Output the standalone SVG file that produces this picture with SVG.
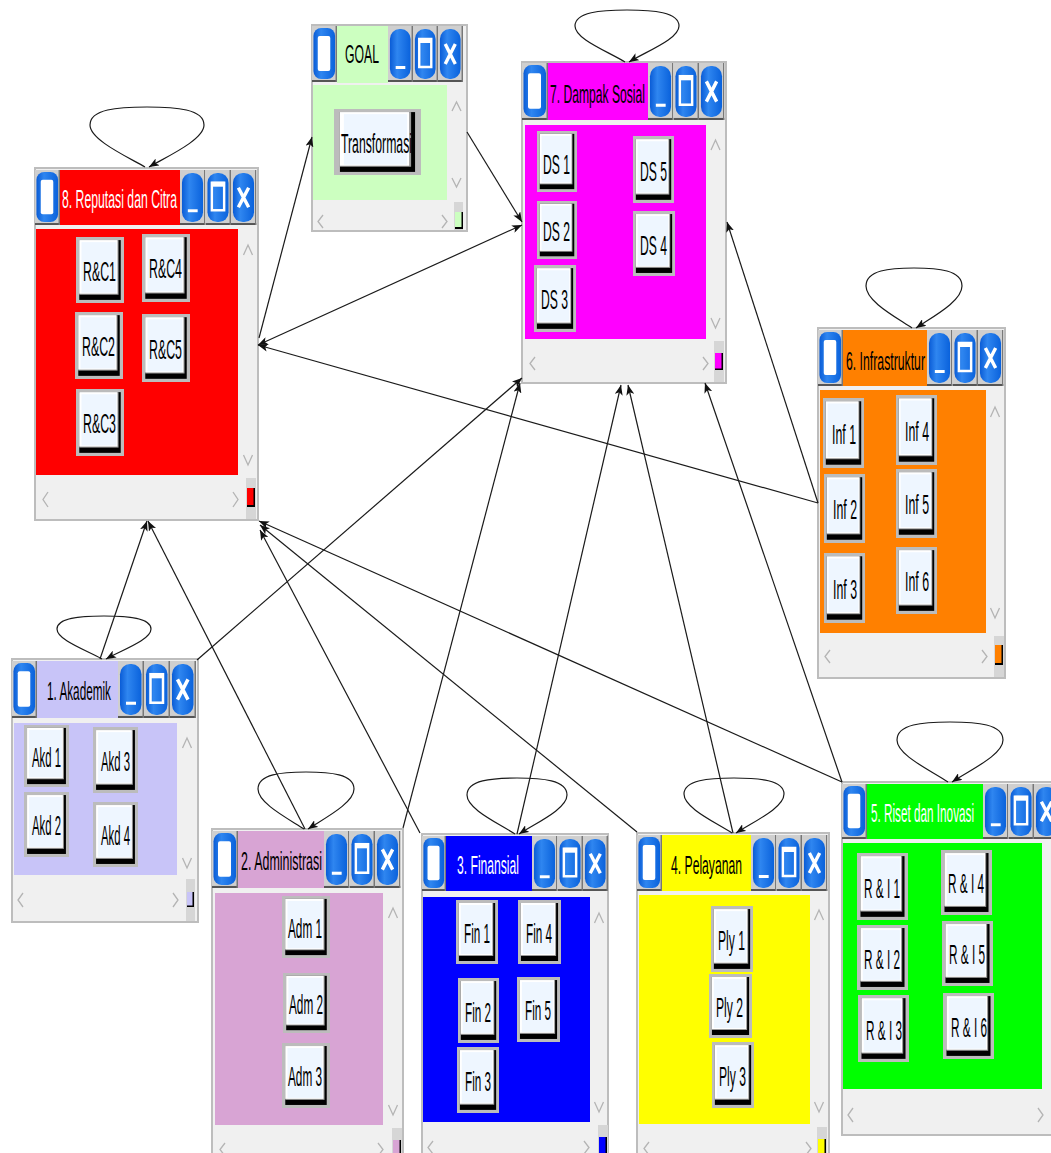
<svg xmlns="http://www.w3.org/2000/svg" xmlns:xlink="http://www.w3.org/1999/xlink" width="1051" height="1153" viewBox="0 0 1051 1153">
<style>
.frame{fill:#f0f0f0;stroke:#bdbdbd;stroke-width:2}
.chev{fill:none;stroke:#b4b4b4;stroke-width:1.3}
.ttl{font-family:"Liberation Sans Narrow","Liberation Sans",Arial,sans-serif;font-size:25px;fill:#000}
.wt{fill:#fff}
.lbl{font-family:"Liberation Sans Narrow","Liberation Sans",Arial,sans-serif;font-size:27px;fill:#000}
.conn{stroke:#1a1a1a;stroke-width:1.2;fill:none}
.trk{fill:#d6d6d6}
</style>
<defs>
<linearGradient id="blue" x1="0" y1="0" x2="1" y2="0">
<stop offset="0" stop-color="#0a5cd6"/><stop offset="0.35" stop-color="#2f86f0"/><stop offset="1" stop-color="#0a62dc"/>
</linearGradient>
<symbol id="ico" viewBox="0 0 26 56" preserveAspectRatio="none">
<rect width="26" height="56" fill="#cfcfcf"/><rect x="0" y="54" width="26" height="2" fill="#555"/><rect x="24.5" y="0" width="1.5" height="56" fill="#777"/>
<rect x="1.5" y="2" width="22.5" height="51" rx="8" fill="url(#blue)"/>
<rect x="6" y="10" width="13" height="35" rx="2" fill="#fff"/>
</symbol>
<symbol id="bmin" viewBox="0 0 26 56" preserveAspectRatio="none">
<rect width="26" height="56" fill="#cfcfcf"/><rect x="0" y="54" width="26" height="2" fill="#555"/><rect x="24.5" y="0" width="1.5" height="56" fill="#777"/>
<rect x="2" y="3" width="21.5" height="50" rx="10" fill="url(#blue)"/>
<rect x="8" y="40" width="10" height="3" fill="#fff"/>
</symbol>
<symbol id="bmax" viewBox="0 0 26 56" preserveAspectRatio="none">
<rect width="26" height="56" fill="#cfcfcf"/><rect x="0" y="54" width="26" height="2" fill="#555"/><rect x="24.5" y="0" width="1.5" height="56" fill="#777"/>
<rect x="2" y="3" width="21.5" height="50" rx="10" fill="url(#blue)"/>
<rect x="6.5" y="13" width="12.5" height="28" fill="none" stroke="#fff" stroke-width="2.5"/>
<rect x="6" y="12" width="13.5" height="5" fill="#fff"/>
</symbol>
<symbol id="bx" viewBox="0 0 26 56" preserveAspectRatio="none">
<rect width="26" height="56" fill="#cfcfcf"/><rect x="0" y="54" width="26" height="2" fill="#555"/><rect x="24.5" y="0" width="1.5" height="56" fill="#777"/>
<rect x="2" y="3" width="21.5" height="50" rx="10" fill="url(#blue)"/>
<path d="M7.5,18 L18,38 M18,18 L7.5,38" stroke="#fff" stroke-width="3.5"/>
</symbol>
<symbol id="btn" viewBox="0 0 44 64" preserveAspectRatio="none">
<rect width="44" height="64" fill="#bcbcbc"/>
<rect x="3" y="3" width="38" height="58" fill="#000"/>
<rect x="3" y="3" width="36" height="53" fill="#9a9a9a"/>
<rect x="3" y="3" width="35" height="52" fill="#fff"/>
<rect x="5" y="5" width="32" height="49" fill="#eef6ff"/>
</symbol>
<marker id="ah" viewBox="0 0 10 8" refX="10" refY="4" markerWidth="10" markerHeight="8" orient="auto-start-reverse" markerUnits="userSpaceOnUse">
<path d="M0,0 L10,4 L0,8 L2.5,4 z" fill="#111"/>
</marker>
</defs>

<rect width="1051" height="1153" fill="#fff"/>

<!-- GOAL -->
<g id="goal">
<rect class="frame" x="312" y="25" width="155" height="206"/>
<rect x="337" y="26" width="51" height="57" fill="#ccffc0"/>
<use href="#ico" x="312" y="26" width="25" height="56"/>
<use href="#bmin" x="388" y="26" width="25" height="56"/>
<use href="#bmax" x="413" y="26" width="25" height="56"/>
<use href="#bx" x="438" y="26" width="25" height="56"/>
<rect x="313" y="85" width="134" height="115" fill="#ccffc0"/>
<path class="chev" d="M452,111 L456.5,102 L461,111 M452,178 L456.5,187 L461,178 M323,215 L318,221.5 L323,228 M442,215 L447,221.5 L442,228"/>
<rect class="trk" x="454" y="202" width="9" height="28"/>
<rect x="455" y="212" width="8" height="17" fill="#000"/><rect x="455" y="212" width="6.5" height="15" fill="#ccffc0"/>
<text class="ttl" x="345" y="63" textLength="34" lengthAdjust="spacingAndGlyphs">GOAL</text>
<use href="#btn" x="334" y="109" width="87" height="66"/>
<text class="lbl" x="341" y="153" textLength="71" lengthAdjust="spacingAndGlyphs">Transformasi</text>
</g>

<!-- 7. Dampak Sosial -->
<g id="dampak-sosial">
<rect class="frame" x="522" y="62" width="204" height="321"/>
<rect x="548" y="63" width="100" height="57" fill="#ff00ff"/>
<use href="#ico" x="522" y="63" width="26" height="57"/>
<use href="#bmin" x="648" y="63" width="25.5" height="57"/>
<use href="#bmax" x="673.5" y="63" width="25.5" height="57"/>
<use href="#bx" x="699" y="63" width="25.5" height="57"/>
<rect x="525" y="125" width="181" height="214" fill="#ff00ff"/>
<path class="chev" d="M711,150 L715.5,140 L720,150 M711,318 L715.5,328 L720,318 M535,357 L530,363.5 L535,370 M703,357 L708,363.5 L703,370"/>
<rect class="trk" x="714" y="341" width="10" height="41"/>
<rect x="715" y="353" width="8" height="17" fill="#000"/><rect x="715" y="353" width="6.5" height="15.5" fill="#ff00ff"/>
<text class="ttl" x="550" y="103" textLength="95" lengthAdjust="spacingAndGlyphs">7. Dampak Sosial</text>
<use href="#btn" x="537" y="131" width="40" height="61"/>
<text class="lbl" x="543" y="174" textLength="27" lengthAdjust="spacingAndGlyphs">DS 1</text>
<use href="#btn" x="537" y="201" width="40" height="58"/>
<text class="lbl" x="543" y="241" textLength="27" lengthAdjust="spacingAndGlyphs">DS 2</text>
<use href="#btn" x="534" y="265" width="42" height="67"/>
<text class="lbl" x="541" y="309" textLength="27" lengthAdjust="spacingAndGlyphs">DS 3</text>
<use href="#btn" x="633" y="136" width="41" height="67"/>
<text class="lbl" x="640" y="181" textLength="27" lengthAdjust="spacingAndGlyphs">DS 5</text>
<use href="#btn" x="633" y="211" width="42" height="65"/>
<text class="lbl" x="640" y="255" textLength="27" lengthAdjust="spacingAndGlyphs">DS 4</text>
</g>

<!-- 8. Reputasi dan Citra -->
<g id="reputasi-citra">
<rect class="frame" x="35" y="168" width="223" height="352"/>
<rect x="60" y="170" width="120" height="55" fill="#ff0000"/>
<use href="#ico" x="35" y="170" width="25" height="55"/>
<use href="#bmin" x="180" y="170" width="25.5" height="55"/>
<use href="#bmax" x="205.5" y="170" width="25.5" height="55"/>
<use href="#bx" x="231" y="170" width="25.5" height="55"/>
<rect x="36" y="229" width="202" height="246" fill="#ff0000"/>
<path class="chev" d="M243.5,255 L248,245 L252.5,255 M243.5,455 L248,465 L252.5,455 M48,492 L43,499.5 L48,507 M233,492 L238,499.5 L233,507"/>
<rect class="trk" x="246" y="478" width="10" height="41"/>
<rect x="247" y="488" width="8" height="19" fill="#000"/><rect x="247" y="488" width="6.5" height="17" fill="#ff0000"/>
<text class="ttl wt" x="62" y="208" textLength="115" lengthAdjust="spacingAndGlyphs">8. Reputasi dan Citra</text>
<use href="#btn" x="76" y="237" width="48" height="66"/>
<text class="lbl" x="83" y="281" textLength="33" lengthAdjust="spacingAndGlyphs">R&amp;C1</text>
<use href="#btn" x="142" y="234" width="48" height="68"/>
<text class="lbl" x="149" y="278" textLength="33" lengthAdjust="spacingAndGlyphs">R&amp;C4</text>
<use href="#btn" x="75" y="312" width="48" height="67"/>
<text class="lbl" x="82" y="356" textLength="33" lengthAdjust="spacingAndGlyphs">R&amp;C2</text>
<use href="#btn" x="142" y="314" width="48" height="68"/>
<text class="lbl" x="149" y="359" textLength="33" lengthAdjust="spacingAndGlyphs">R&amp;C5</text>
<use href="#btn" x="76" y="389" width="48" height="67"/>
<text class="lbl" x="83" y="433" textLength="33" lengthAdjust="spacingAndGlyphs">R&amp;C3</text>
</g>

<!-- 6. Infrastruktur -->
<g id="infrastruktur">
<rect class="frame" x="818" y="328" width="187" height="350"/>
<rect x="843" y="330" width="84" height="56" fill="#ff8000"/>
<use href="#ico" x="818" y="330" width="25" height="56"/>
<use href="#bmin" x="927" y="330" width="25.5" height="56"/>
<use href="#bmax" x="952.5" y="330" width="25.5" height="56"/>
<use href="#bx" x="978" y="330" width="25.5" height="56"/>
<rect x="820" y="390" width="166" height="243" fill="#ff8000"/>
<path class="chev" d="M990.5,417 L995,407 L999.5,417 M990.5,608 L995,618 L999.5,608 M830,650 L825,656.5 L830,663 M982,650 L987,656.5 L982,663"/>
<rect class="trk" x="994" y="636" width="10" height="41"/>
<rect x="995" y="645" width="8" height="20" fill="#000"/><rect x="995" y="645" width="6.5" height="18" fill="#ff8000"/>
<text class="ttl" x="846" y="370" textLength="79" lengthAdjust="spacingAndGlyphs">6. Infrastruktur</text>
<use href="#btn" x="823" y="398" width="41" height="70"/>
<text class="lbl" x="832" y="444" textLength="24" lengthAdjust="spacingAndGlyphs">Inf 1</text>
<use href="#btn" x="896" y="395" width="41" height="70"/>
<text class="lbl" x="905" y="441" textLength="24" lengthAdjust="spacingAndGlyphs">Inf 4</text>
<use href="#btn" x="824" y="474" width="41" height="69"/>
<text class="lbl" x="833" y="519" textLength="24" lengthAdjust="spacingAndGlyphs">Inf 2</text>
<use href="#btn" x="896" y="469" width="41" height="69"/>
<text class="lbl" x="905" y="514" textLength="24" lengthAdjust="spacingAndGlyphs">Inf 5</text>
<use href="#btn" x="824" y="553" width="41" height="70"/>
<text class="lbl" x="833" y="599" textLength="24" lengthAdjust="spacingAndGlyphs">Inf 3</text>
<use href="#btn" x="896" y="547" width="41" height="67"/>
<text class="lbl" x="905" y="591" textLength="24" lengthAdjust="spacingAndGlyphs">Inf 6</text>
</g>

<!-- 1. Akademik -->
<g id="akademik">
<rect class="frame" x="12" y="659" width="186" height="263"/>
<rect x="37" y="661" width="81" height="57" fill="#c8c4f8"/>
<use href="#ico" x="12" y="661" width="25" height="57"/>
<use href="#bmin" x="118" y="661" width="26" height="57"/>
<use href="#bmax" x="144" y="661" width="26" height="57"/>
<use href="#bx" x="170" y="661" width="26" height="57"/>
<rect x="14" y="723" width="163" height="152" fill="#c8c4f8"/>
<path class="chev" d="M182.5,748 L187,738 L191.5,748 M182.5,858 L187,868 L191.5,858 M23,893 L18,900 L23,907 M173,893 L178,900 L173,907"/>
<rect class="trk" x="186" y="879" width="9" height="42"/>
<rect x="187" y="892" width="7" height="15" fill="#000"/><rect x="187" y="892" width="5.5" height="13.5" fill="#c8c4f8"/>
<text class="ttl" x="47" y="700" textLength="64" lengthAdjust="spacingAndGlyphs">1. Akademik</text>
<use href="#btn" x="24" y="725" width="45" height="62"/>
<text class="lbl" x="32" y="767" textLength="29" lengthAdjust="spacingAndGlyphs">Akd 1</text>
<use href="#btn" x="93" y="727" width="45" height="66"/>
<text class="lbl" x="101" y="771" textLength="29" lengthAdjust="spacingAndGlyphs">Akd 3</text>
<use href="#btn" x="24" y="792" width="45" height="65"/>
<text class="lbl" x="32" y="835" textLength="29" lengthAdjust="spacingAndGlyphs">Akd 2</text>
<use href="#btn" x="93" y="802" width="45" height="65"/>
<text class="lbl" x="101" y="845" textLength="29" lengthAdjust="spacingAndGlyphs">Akd 4</text>
</g>

<!-- 2. Administrasi -->
<g id="administrasi">
<rect class="frame" x="212" y="829" width="191" height="330"/>
<rect x="238" y="831" width="86" height="57" fill="#d8a4d4"/>
<use href="#ico" x="212" y="831" width="26" height="57"/>
<use href="#bmin" x="324" y="831" width="25.5" height="57"/>
<use href="#bmax" x="349.5" y="831" width="25.5" height="57"/>
<use href="#bx" x="375" y="831" width="25.5" height="57"/>
<rect x="215" y="893" width="168" height="232" fill="#d8a4d4"/>
<path class="chev" d="M388.5,918 L393,908 L397.5,918 M388.5,1105 L393,1115 L397.5,1105 M225,1143 L220,1149.5 L225,1156 M378,1143 L383,1149.5 L378,1156"/>
<rect class="trk" x="392" y="1128" width="10" height="30"/>
<rect x="393" y="1140" width="8" height="15" fill="#000"/><rect x="393" y="1140" width="6.5" height="15" fill="#d8a4d4"/>
<text class="ttl" x="241" y="870" textLength="81" lengthAdjust="spacingAndGlyphs">2. Administrasi</text>
<use href="#btn" x="282" y="896" width="48" height="62"/>
<text class="lbl" x="288" y="938" textLength="34" lengthAdjust="spacingAndGlyphs">Adm 1</text>
<use href="#btn" x="283" y="973" width="47" height="60"/>
<text class="lbl" x="289" y="1014" textLength="34" lengthAdjust="spacingAndGlyphs">Adm 2</text>
<use href="#btn" x="282" y="1043" width="48" height="65"/>
<text class="lbl" x="288" y="1086" textLength="34" lengthAdjust="spacingAndGlyphs">Adm 3</text>
</g>

<!-- 3. Finansial -->
<g id="finansial">
<rect class="frame" x="422" y="834" width="186" height="325"/>
<rect x="446" y="836" width="86" height="55" fill="#0000ff"/>
<use href="#ico" x="422" y="836" width="24" height="55"/>
<use href="#bmin" x="532" y="836" width="25.5" height="55"/>
<use href="#bmax" x="557.5" y="836" width="25.5" height="55"/>
<use href="#bx" x="583" y="836" width="25" height="55"/>
<rect x="423" y="897" width="167" height="225" fill="#0000ff"/>
<path class="chev" d="M594.5,923 L599,913 L603.5,923 M594.5,1102 L599,1112 L603.5,1102 M433,1141 L428,1147.5 L433,1154 M584,1141 L589,1147.5 L584,1154"/>
<rect class="trk" x="598" y="1125" width="10" height="33"/>
<rect x="599" y="1137" width="8" height="18" fill="#000"/><rect x="599" y="1137" width="6.5" height="18" fill="#0000ff"/>
<text class="ttl wt" x="457" y="874" textLength="62" lengthAdjust="spacingAndGlyphs">3. Finansial</text>
<use href="#btn" x="456" y="900" width="42" height="64"/>
<text class="lbl" x="464" y="943" textLength="26" lengthAdjust="spacingAndGlyphs">Fin 1</text>
<use href="#btn" x="518" y="900" width="43" height="64"/>
<text class="lbl" x="526" y="943" textLength="26" lengthAdjust="spacingAndGlyphs">Fin 4</text>
<use href="#btn" x="458" y="978" width="41" height="65"/>
<text class="lbl" x="465" y="1022" textLength="26" lengthAdjust="spacingAndGlyphs">Fin 2</text>
<use href="#btn" x="517" y="977" width="43" height="65"/>
<text class="lbl" x="525" y="1020" textLength="26" lengthAdjust="spacingAndGlyphs">Fin 5</text>
<use href="#btn" x="457" y="1047" width="42" height="66"/>
<text class="lbl" x="465" y="1091" textLength="26" lengthAdjust="spacingAndGlyphs">Fin 3</text>
</g>

<!-- 4. Pelayanan -->
<g id="pelayanan">
<rect class="frame" x="637" y="833" width="192" height="325"/>
<rect x="662" y="835" width="89" height="56" fill="#ffff00"/>
<use href="#ico" x="637" y="835" width="25" height="56"/>
<use href="#bmin" x="751" y="835" width="25.5" height="56"/>
<use href="#bmax" x="776.5" y="835" width="25.5" height="56"/>
<use href="#bx" x="802" y="835" width="25.5" height="56"/>
<rect x="639" y="895" width="171" height="229" fill="#ffff00"/>
<path class="chev" d="M814.5,920 L819,910 L823.5,920 M814.5,1102 L819,1112 L823.5,1102 M649,1142 L644,1148.5 L649,1155 M806,1142 L811,1148.5 L806,1155"/>
<rect class="trk" x="817" y="1127" width="10" height="31"/>
<rect x="818" y="1139" width="8" height="16" fill="#000"/><rect x="818" y="1139" width="6.5" height="16" fill="#ffff00"/>
<text class="ttl" x="671" y="874" textLength="71" lengthAdjust="spacingAndGlyphs">4. Pelayanan</text>
<use href="#btn" x="711" y="906" width="42" height="66"/>
<text class="lbl" x="718" y="950" textLength="27" lengthAdjust="spacingAndGlyphs">Ply 1</text>
<use href="#btn" x="709" y="974" width="43" height="64"/>
<text class="lbl" x="716" y="1017" textLength="27" lengthAdjust="spacingAndGlyphs">Ply 2</text>
<use href="#btn" x="712" y="1042" width="42" height="66"/>
<text class="lbl" x="719" y="1086" textLength="27" lengthAdjust="spacingAndGlyphs">Ply 3</text>
</g>

<!-- 5. Riset dan Inovasi -->
<g id="riset-inovasi">
<rect class="frame" x="842" y="782" width="220" height="353"/>
<rect x="867" y="784" width="116" height="55" fill="#00ff00"/>
<use href="#ico" x="842" y="784" width="25" height="55"/>
<use href="#bmin" x="983" y="784" width="25.5" height="55"/>
<use href="#bmax" x="1008.5" y="784" width="25.5" height="55"/>
<use href="#bx" x="1034" y="784" width="25.5" height="55"/>
<rect x="843" y="843" width="199" height="246" fill="#00ff00"/>
<path class="chev" d="M853,1108 L848,1115 L853,1122 M1038,1108 L1043,1115 L1038,1122"/>
<text class="ttl wt" transform="translate(871,822) scale(0.5,1)" x="0" y="0" textLength="206" lengthAdjust="spacingAndGlyphs">5. Riset dan Inovasi</text>
<use href="#btn" x="857" y="853" width="51" height="67"/>
<text class="lbl" x="864" y="898" textLength="36" lengthAdjust="spacingAndGlyphs">R &amp; I 1</text>
<use href="#btn" x="941" y="850" width="51" height="65"/>
<text class="lbl" x="948" y="893" textLength="36" lengthAdjust="spacingAndGlyphs">R &amp; I 4</text>
<use href="#btn" x="857" y="925" width="51" height="65"/>
<text class="lbl" x="864" y="969" textLength="36" lengthAdjust="spacingAndGlyphs">R &amp; I 2</text>
<use href="#btn" x="942" y="921" width="51" height="65"/>
<text class="lbl" x="949" y="964" textLength="36" lengthAdjust="spacingAndGlyphs">R &amp; I 5</text>
<use href="#btn" x="858" y="995" width="51" height="67"/>
<text class="lbl" x="866" y="1040" textLength="36" lengthAdjust="spacingAndGlyphs">R &amp; I 3</text>
<use href="#btn" x="943" y="993" width="51" height="66"/>
<text class="lbl" x="951" y="1037" textLength="36" lengthAdjust="spacingAndGlyphs">R &amp; I 6</text>
</g>

<!-- connectors -->
<g id="connectors" class="conn">
<path marker-end="url(#ah)" d="M145,167 C128,157 90,140 90,125 C90,109 118,107 147,107 C176,107 204,109 204,125 C204,140 166,157 149,167"/>
<path marker-end="url(#ah)" d="M625,62 C607,51 575,39 575,26 C575,12 601,10 627,10 C653,10 679,12 679,26 C679,39 647,51 629,62"/>
<path marker-end="url(#ah)" d="M912,328 C894,316 866,301 866,286 C866,270 890,268 914,268 C938,268 962,270 962,286 C962,301 934,316 916,328"/>
<path marker-end="url(#ah)" d="M102,659 C86,650 57,640 57,629 C57,618 80,616 104,616 C128,616 151,618 151,629 C151,640 122,650 106,659"/>
<path marker-end="url(#ah)" d="M304,829 C287,818 258,803 258,789 C258,774 282,772 306,772 C330,772 354,774 354,789 C354,803 325,818 308,829"/>
<path marker-end="url(#ah)" d="M515,834 C498,823 467,809 467,795 C467,780 492,778 517,778 C542,778 567,780 567,795 C567,809 536,823 519,834"/>
<path marker-end="url(#ah)" d="M732,833 C715,822 684,808 684,794 C684,780 709,778 734,778 C759,778 784,780 784,794 C784,808 753,822 736,833"/>
<path marker-end="url(#ah)" d="M948,782 C930,770 897,755 897,740 C897,724 923,722 950,722 C977,722 1003,724 1003,740 C1003,755 970,770 952,782"/>
<line marker-end="url(#ah)" x1="259" y1="338" x2="312" y2="137"/>
<line marker-end="url(#ah)" x1="467" y1="132" x2="522" y2="222"/>
<line marker-start="url(#ah)" marker-end="url(#ah)" x1="258" y1="345" x2="522" y2="225"/>
<line marker-end="url(#ah)" x1="818" y1="503" x2="258" y2="345"/>
<line marker-end="url(#ah)" x1="818" y1="503" x2="727" y2="222"/>
<line marker-end="url(#ah)" x1="100" y1="659" x2="147" y2="521"/>
<line marker-end="url(#ah)" x1="197" y1="660" x2="522" y2="378"/>
<line marker-end="url(#ah)" x1="305" y1="829" x2="148" y2="521"/>
<line marker-end="url(#ah)" x1="403" y1="828" x2="520" y2="383"/>
<line marker-end="url(#ah)" x1="517" y1="834" x2="621" y2="385"/>
<line marker-end="url(#ah)" x1="733" y1="833" x2="628" y2="385"/>
<line marker-end="url(#ah)" x1="842" y1="782" x2="705" y2="383"/>
<line marker-end="url(#ah)" x1="842" y1="782" x2="259" y2="521"/>
<line marker-end="url(#ah)" x1="637" y1="832" x2="260" y2="525"/>
<line marker-end="url(#ah)" x1="420" y1="833" x2="260" y2="530"/>
</g>
</svg>
